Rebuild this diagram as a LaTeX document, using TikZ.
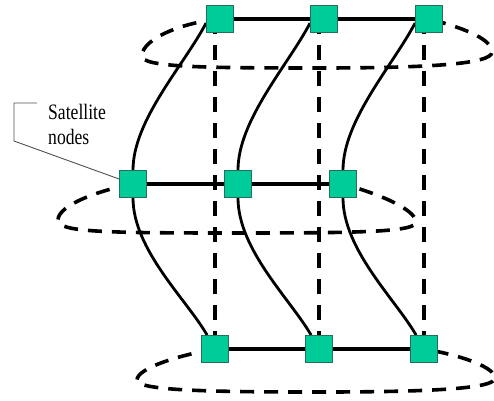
\documentclass[tikz,border=0pt]{standalone}
\usepackage{fontspec}
\setmainfont{Liberation Serif}
\usepackage{graphicx}
\usetikzlibrary{backgrounds}
\definecolor{satfill}{RGB}{0,204,153}
\definecolor{satedge}{RGB}{40,110,90}
\definecolor{leadergray}{RGB}{80,80,80}
\tikzset{
  sat/.style={draw=satedge, line width=0.8pt, fill=satfill, minimum size=27pt, inner sep=0pt},
  link/.style={line width=3.6pt},
  twist/.style={line width=2.8pt},
  orbit/.style={line width=3.6pt, dash pattern=on 14pt off 10pt},
  plumb/.style={line width=3.4pt, dash pattern=on 15pt off 11pt},
  leader/.style={draw=leadergray, line width=0.9pt},
  calltext/.style={inner sep=0pt, align=left, font=\fontsize{22}{25}\selectfont}
}
\begin{document}
\begin{tikzpicture}[x=1pt, y=-1pt]
\useasboundingbox (0,0) rectangle (494,400);

% satellites: top, middle and bottom planes
\node[sat] (t1) at (220,19) {};
\node[sat] (t2) at (324,19) {};
\node[sat] (t3) at (429,19) {};
\node[sat] (m1) at (133,184) {};
\node[sat] (m2) at (238,184) {};
\node[sat] (m3) at (343,184) {};
\node[sat] (b1) at (215,349) {};
\node[sat] (b2) at (319,349) {};
\node[sat] (b3) at (424,349) {};

\begin{pgfonlayer}{background}
  % orbital rings
  \draw[orbit] (t1.center) .. controls (185,22) and (142,38) .. (142,56)
     .. controls (142,67) and (200,68) .. (317,68)
     .. controls (430,68) and (492,64) .. (492,52)
     .. controls (492,40) and (468,29) .. (t3.center) -- cycle;
  \draw[orbit] (m1.center) .. controls (100,190) and (58,205) .. (58,220)
     .. controls (58,232) and (100,233) .. (238,233)
     .. controls (360,233) and (416,232) .. (416,222)
     .. controls (416,212) and (390,197) .. (m3.center) -- cycle;
  \draw[orbit] (b1.center) .. controls (180,355) and (137,368) .. (137,380)
     .. controls (137,390) and (200,392) .. (319,392)
     .. controls (440,392) and (495,388) .. (495,378)
     .. controls (495,368) and (465,356) .. (b3.center) -- cycle;

  % vertical dashed links
  \draw[plumb] (t1 -| b1) -- (b1);
  \draw[plumb] (t2 -| b2) -- (b2);
  \draw[plumb] (t3 -| b3) -- (b3);

  % curved inter-plane links
  \foreach \i in {1,2,3}{
    \draw[twist] ([yshift=-4pt]t\i.west) .. controls +(-22,42) and +(0,-50) .. (m\i.north);
    \draw[twist] (m\i.south) .. controls +(0,52) and +(-20,-35) .. ([xshift=6pt]b\i.north west);
  }

  % intra-plane links
  \draw[link] (t1) -- (t2) -- (t3);
  \draw[link] (m1) -- (m2) -- (m3);
  \draw[link] (b1) -- (b2) -- (b3);
\end{pgfonlayer}

% callout
\node[calltext, anchor=base west] (txt) at (48,144)
  {\scalebox{0.8}[1]{Satellite}\\\scalebox{0.8}[1]{nodes}};
\coordinate (k1) at (37,103);
\coordinate (k2) at (14,103);
\coordinate (k3) at (14,141);
\draw[leader] (k1) -- (k2) -- (k3) -- ([yshift=5pt]m1.west);
\end{tikzpicture}
\end{document}
